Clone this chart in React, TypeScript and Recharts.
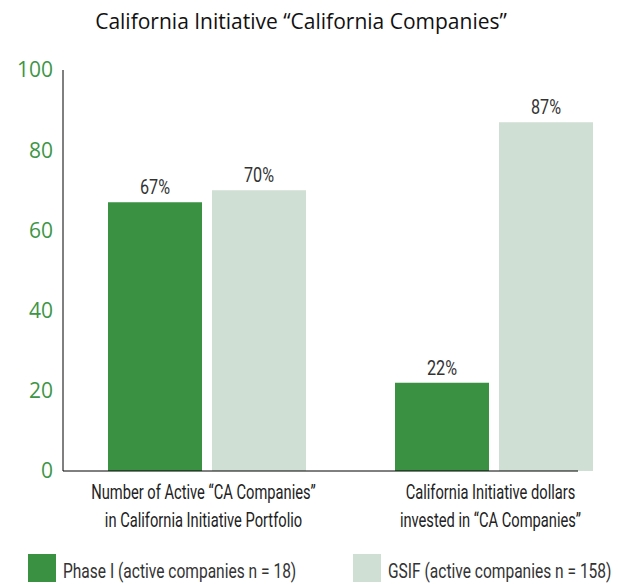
import React from "react";
import { Bar, BarChart, LabelList, Legend, XAxis, YAxis } from "recharts";

const categories = [
  "Number of Active “CA Companies”\nin California Initiative Portfolio",
  "California Initiative dollars\ninvested in “CA Companies”",
];
const phaseI = [67, 22];
const gsif = [70, 87];
const yTicks = [0, 20, 40, 60, 80, 100];
const seriesNames = ["Phase I (active companies n = 18)", "GSIF (active companies n = 158)"];

const data = categories.map((name, i) => ({ name, phaseI: phaseI[i], gsif: gsif[i] }));

const GREEN = "#3a9142";
const PALE = "#cfdfd3";
const NARROW = "Roboto, sans-serif";

// Myriad Condensed is not available, so Roboto is squeezed horizontally
function Narrow({ x, y, children, fill = "#333", size = 21, squeeze = 0.77 }: any) {
  return (
    <g transform={`translate(${x},${y}) scale(${squeeze},1)`}>
      <text x={0} y={0} textAnchor="middle" fill={fill} fontSize={size} fontFamily={NARROW}>
        {children}
      </text>
    </g>
  );
}

function CategoryTick(props: any) {
  const { x, y, payload } = props;
  const lines = String(payload.value).split("\n");
  return (
    <g>
      {lines.map((l, i) => (
        <Narrow key={i} x={x - 3} y={y + 28 + i * 28} fill="#222" size={21} squeeze={0.7}>
          {l}
        </Narrow>
      ))}
    </g>
  );
}

function PctLabel(props: any) {
  const { x, y, width, value } = props;
  return (
    <Narrow x={x + width / 2} y={y - 8} size={21}>
      {`${value}%`}
    </Narrow>
  );
}

function LegendContent(props: any) {
  const items = [...(props.payload || [])].sort(
    (a: any, b: any) => seriesNames.indexOf(a.value) - seriesNames.indexOf(b.value)
  );
  return (
    <div
      style={{
        position: "relative",
        height: 28,
        fontFamily: NARROW,
        fontSize: 21,
        color: "#333",
        whiteSpace: "nowrap",
      }}
    >
      {items.map((p: any, i: number) => (
        <div key={i} style={{ position: "absolute", top: 0, left: i === 0 ? 28 : 353, display: "flex" }}>
          <span style={{ display: "inline-block", width: 28, height: 28, background: p.color, marginRight: 7 }} />
          <span
            style={{
              display: "inline-block",
              lineHeight: "24px",
              marginTop: 5,
              transform: "scaleX(0.74)",
              transformOrigin: "left center",
            }}
          >
            {p.value}
          </span>
        </div>
      ))}
    </div>
  );
}

export default function App() {
  return (
    <div style={{ position: "absolute", left: 0, top: 0, width: 618, height: 584, background: "#fff" }}>
      <div
        style={{
          position: "absolute",
          top: 7,
          left: 0,
          width: 602,
          textAlign: "center",
          fontFamily: "'Open Sans', sans-serif",
          fontSize: 21,
          color: "#111",
        }}
      >
        California Initiative “California Companies”
      </div>
      <BarChart
        width={618}
        height={584}
        data={data}
        margin={{ top: 70, right: 40, left: 0, bottom: 25 }}
        barSize={94}
        barGap={10}
      >
        <XAxis
          dataKey="name"
          height={60}
          padding={{ left: 0, right: -59 }}
          axisLine={{ stroke: "#000" }}
          tickLine={false}
          tickSize={0}
          tickMargin={0}
          tick={<CategoryTick />}
          interval={0}
        />
        <YAxis
          yAxisId="left"
          width={63}
          domain={[0, 100]}
          ticks={yTicks}
          axisLine={{ stroke: "#000" }}
          tickLine={false}
          tickSize={0}
          tickMargin={10}
          tick={{ fill: "#3d9646", fontSize: 21, fontFamily: "'Open Sans', sans-serif" }}
        />
        <YAxis
          yAxisId="inner"
          mirror
          domain={[0, 100]}
          ticks={yTicks}
          axisLine={false}
          tickLine={{ stroke: "#000" }}
          tickSize={16}
          tick={false}
        />
        <Legend verticalAlign="bottom" content={<LegendContent />} wrapperStyle={{ left: 0, bottom: 2, width: 618 }} />
        <Bar yAxisId="left" dataKey="phaseI" name={seriesNames[0]} fill={GREEN} isAnimationActive={false}>
          <LabelList dataKey="phaseI" content={<PctLabel />} />
        </Bar>
        <Bar yAxisId="left" dataKey="gsif" name={seriesNames[1]} fill={PALE} isAnimationActive={false}>
          <LabelList dataKey="gsif" content={<PctLabel />} />
        </Bar>
      </BarChart>
    </div>
  );
}
